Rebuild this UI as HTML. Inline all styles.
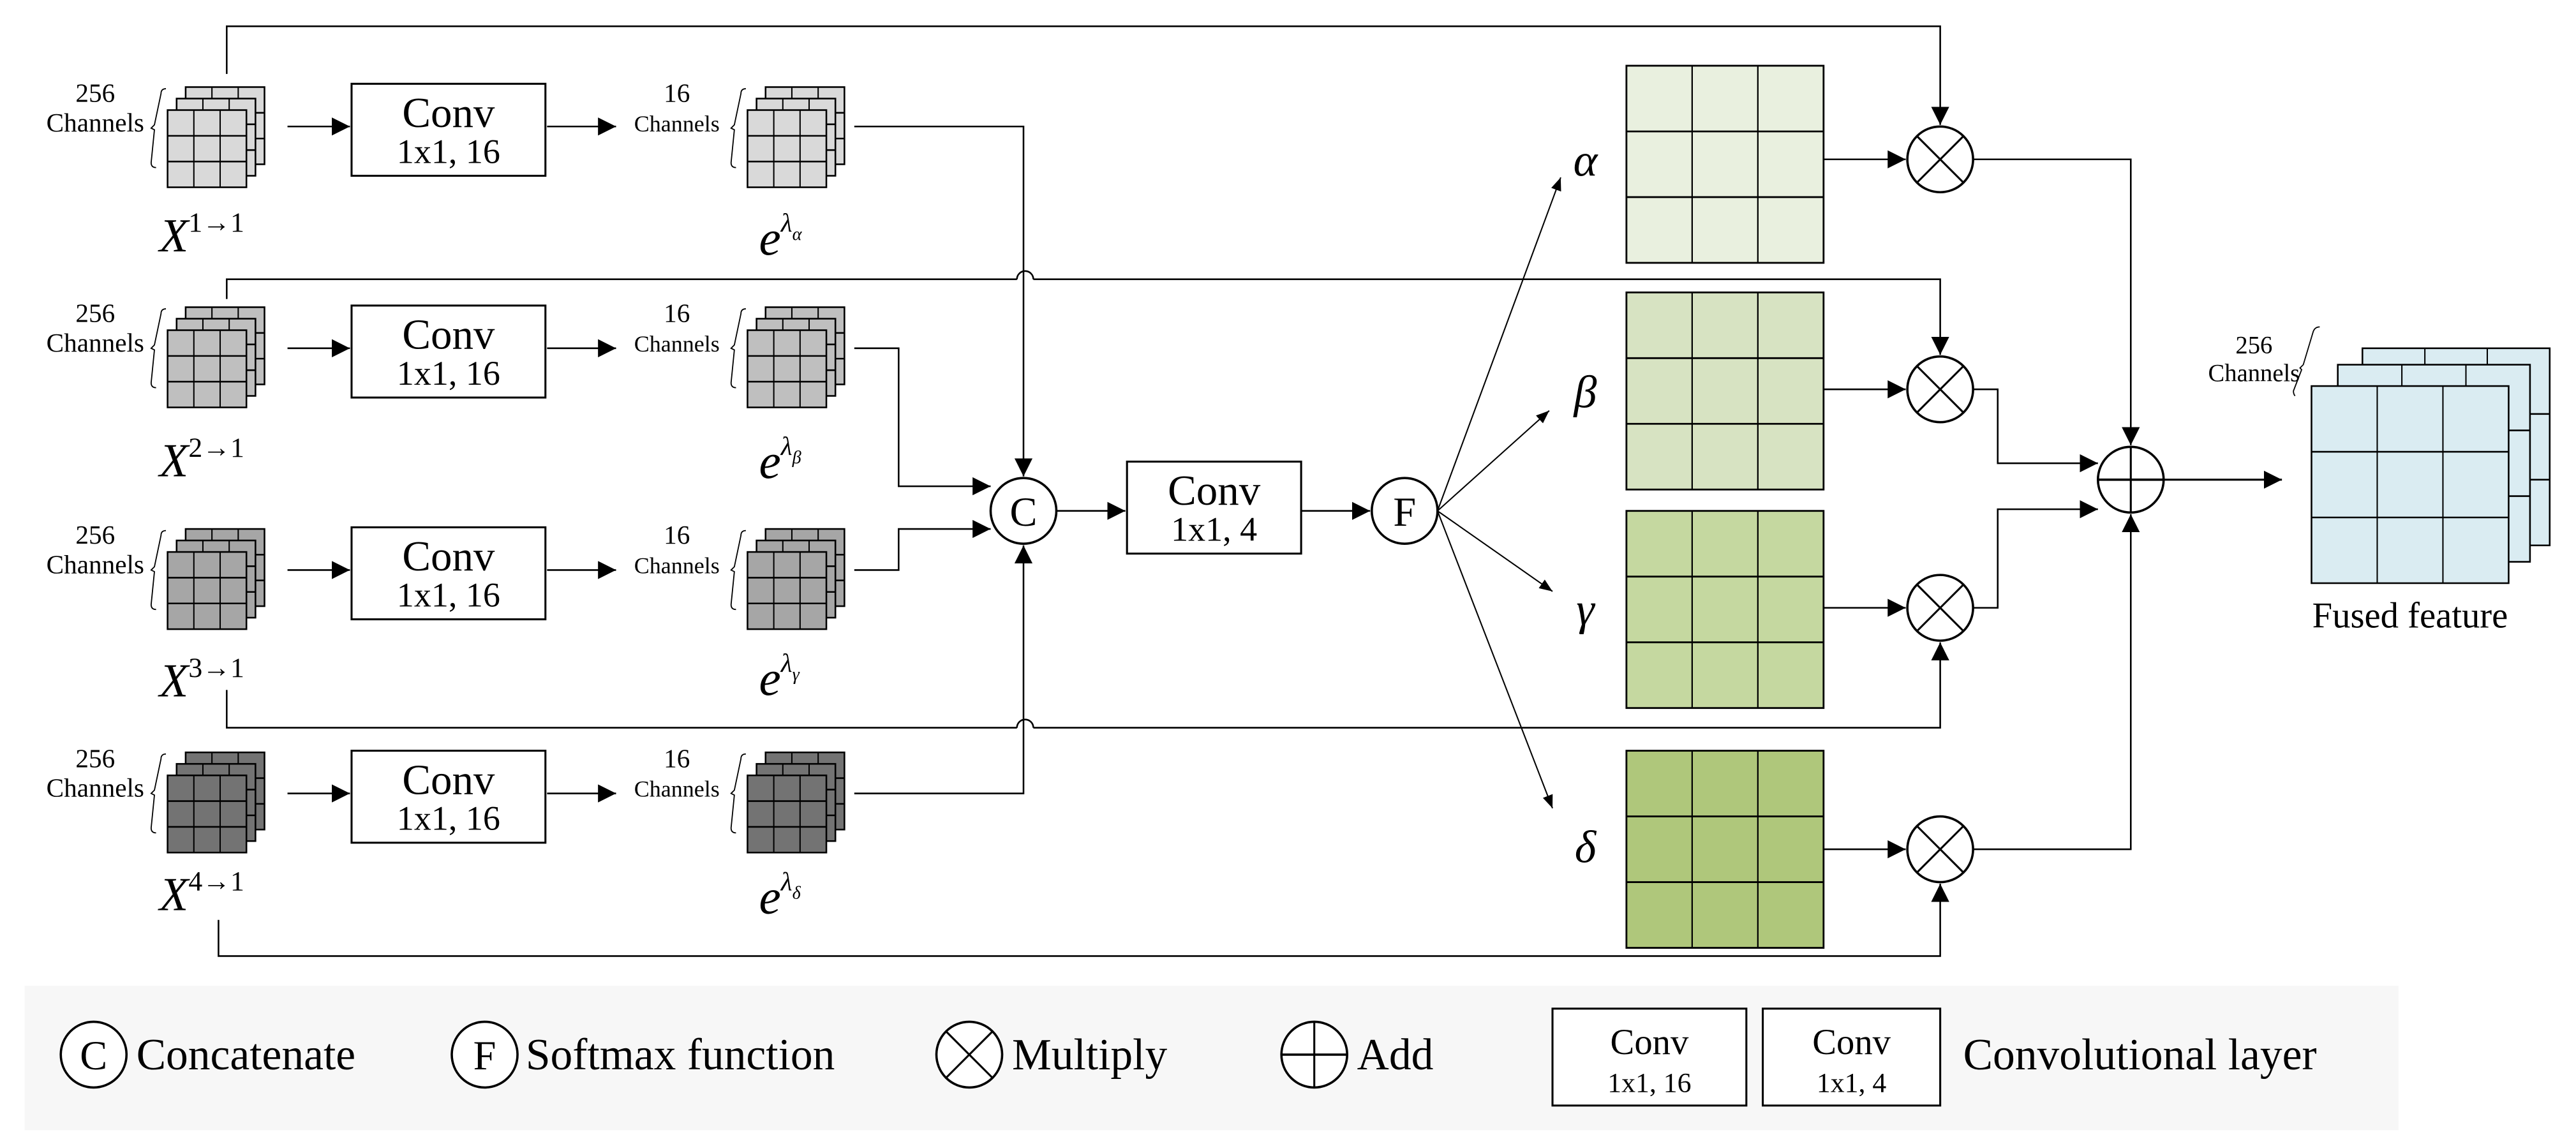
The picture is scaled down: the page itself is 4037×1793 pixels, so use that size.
<!DOCTYPE html>
<html><head><meta charset="utf-8"><style>
html,body{margin:0;padding:0;background:#fff;width:4037px;height:1793px;overflow:hidden}
svg{display:block}
text{font-family:"Liberation Serif",serif;fill:#000}
</style></head><body>
<svg id="s" width="4037" height="1793" viewBox="0 0 1568 696.4" xmlns="http://www.w3.org/2000/svg">
<defs>
<marker id="ah" viewBox="0 0 10 10" refX="10" refY="5" markerWidth="11" markerHeight="11" markerUnits="userSpaceOnUse" orient="auto"><path d="M0,0L10,5L0,10z" fill="#000"/></marker>
<marker id="as" viewBox="0 0 10 10" refX="10" refY="5" markerWidth="8" markerHeight="8" markerUnits="userSpaceOnUse" orient="auto"><path d="M0,1L10,5L0,9z" fill="#000"/></marker>
</defs>
<rect x="15" y="600" width="1445" height="88" fill="#f7f7f7"/>
</svg>
<script>
const NS="http://www.w3.org/2000/svg";
const svg=document.getElementById('s');
function el(tag,attrs,txt){const e=document.createElementNS(NS,tag);for(const k in attrs)e.setAttribute(k,attrs[k]);if(txt!==undefined)e.textContent=txt;svg.appendChild(e);return e;}
function line(pts,arrow,sw){el('polyline',{points:pts,fill:'none',stroke:'#000','stroke-width':sw||1,'marker-end':arrow?'url(#'+arrow+')':''});}
function grid(x,y,w,h,fill,sw){el('rect',{x:x,y:y,width:w,height:h,fill:fill,stroke:'#000','stroke-width':sw||1});
 for(let i=1;i<3;i++){el('line',{x1:x+w*i/3,y1:y,x2:x+w*i/3,y2:y+h,stroke:'#000','stroke-width':(sw||1)*0.8});el('line',{x1:x,y1:y+h*i/3,x2:x+w,y2:y+h*i/3,stroke:'#000','stroke-width':sw||1});}}
function stack(x,y,fill,w,h,dx,dy){w=w||48;h=h||47;dx=dx||5.5;dy=dy||7;
 grid(x+2*dx,y-2*dy,w,h,fill);grid(x+dx,y-dy,w,h,fill);grid(x,y,w,h,fill);}
function brace(x,y1,y2){el('path',{d:`M${x+6},${y1} q-3,0 -3,3 L${x-1},${(y1+y2)/2-2} l-2,2 l2,1 L${x-3},${y2-3} q0,3 3,3`,fill:'none',stroke:'#000','stroke-width':0.7});}
function circ(cx,cy,r){el('circle',{cx:cx,cy:cy,r:r,fill:'#fff',stroke:'#000','stroke-width':1.4});}
function txt(x,y,s,size,anchor,extra){const a={x:x,y:y,'font-size':size,'text-anchor':anchor||'middle'};Object.assign(a,extra||{});return el('text',a,s);}
function conv(x,y,w,h,t2,sans,s1,s2){el('rect',{x:x,y:y,width:w,height:h,fill:'#fff',stroke:'#000','stroke-width':1.2});
 const f=sans?{'font-family':'"Liberation Sans",sans-serif'}:{};
 txt(x+w/2,y+h*0.47,'Conv',s1||(sans?21:26),'middle',f);txt(x+w/2,y+h*0.86,t2,s2||(sans?17:21),'middle',f);}
function mult(cx,cy){circ(cx,cy,20);const d=20*0.707;el('line',{x1:cx-d,y1:cy-d,x2:cx+d,y2:cy+d,stroke:'#000','stroke-width':1.2});el('line',{x1:cx-d,y1:cy+d,x2:cx+d,y2:cy-d,stroke:'#000','stroke-width':1.2});}
function add(cx,cy){circ(cx,cy,20);el('line',{x1:cx-20,y1:cy,x2:cx+20,y2:cy,stroke:'#000','stroke-width':1.4});el('line',{x1:cx,y1:cy-20,x2:cx,y2:cy+20,stroke:'#000','stroke-width':1.2});}

line('138,45 138,16 1181,16 1181,76','ah');
line('138,182 138,170 619,170','');
el('path',{d:'M619,170 a5,5 0 0 1 10,0',fill:'none',stroke:'#000','stroke-width':1});
line('629,170 1181,170 1181,216','ah');
line('138,420 138,443 619,443','');
el('path',{d:'M619,443 a5,5 0 0 1 10,0',fill:'none',stroke:'#000','stroke-width':1});
line('629,443 1181,443 1181,391','ah');
line('133,560 133,582 1181,582 1181,538','ah');

const rows=[{y:67,c:'#d9d9d9',cy:77,X:'1',e:'α'},{y:201,c:'#bfbfbf',cy:212,X:'2',e:'β'},{y:336,c:'#a6a6a6',cy:347,X:'3',e:'γ'},{y:472,c:'#737373',cy:483,X:'4',e:'δ'}];
const ey=[155,291,423,556], xy=[153,290,424,554];
rows.forEach((r,i)=>{
 stack(102,r.y,r.c);brace(95,r.y-13,r.y+35);
 txt(58,r.y-5,'256',16);txt(58,r.y+13,'Channels',16);
 line(`175,${r.cy} 213,${r.cy}`,'ah');
 conv(214,r.cy-26,118,56,'1x1, 16');
 line(`333,${r.cy} 375,${r.cy}`,'ah');
 txt(412,r.y-5,'16',16);txt(412,r.y+13,'Channels',14,'middle',{'font-family':'"Liberation Sans",sans-serif'});
 stack(455,r.y,r.c);brace(448,r.y-13,r.y+35);
 const t=txt(97,xy[i],'',29,'start',{'font-style':'italic'});
 t.innerHTML='X<tspan dy="-12" font-size="17" font-style="normal">'+r.X+'→1</tspan>';
 const t2=txt(462,ey[i],'',30,'start',{'font-style':'italic'});
 t2.innerHTML='e<tspan dy="-14" font-size="16">λ</tspan><tspan dy="5" font-size="11">'+r.e+'</tspan>';
});
line('520,77 623,77 623,290','ah');
line('520,212 547,212 547,296 603,296','ah');
line('520,347 547,347 547,322 603,322','ah');
line('520,483 623,483 623,332','ah');
circ(623,311,20);txt(623,320,'C',25);
line('643,311 685,311','ah');
conv(686,281,106,56,'1x1, 4');
line('792,311 834,311','ah');
circ(855,311,20);txt(855,320,'F',25);
line('875,311 950,108','as',0.8);
line('875,311 943,250','as',0.8);
line('875,311 945,360','as',0.8);
line('875,311 945,492','as',0.8);
txt(965,107,'α',28,'middle',{'font-style':'italic'});
txt(965,248,'β',28,'middle',{'font-style':'italic'});
txt(965,380,'γ',28,'middle',{'font-style':'italic'});
txt(965,525,'δ',28,'middle',{'font-style':'italic'});
const gm=[[40,'#e9f0df',97],[178,'#d7e3c2',237],[311,'#c5d8a0',370],[457,'#afc77b',517]];
gm.forEach(([y,c,cy])=>{grid(990,y,120,120,c,1.1);line(`1110,${cy} 1160,${cy}`,'ah');mult(1181,cy);});
line('1201,97 1297,97 1297,271','ah');
line('1201,237 1216,237 1216,282 1277,282','ah');
line('1201,370 1216,370 1216,310 1277,310','ah');
line('1201,517 1297,517 1297,313','ah');
add(1297,292);
line('1317,292 1389,292','ah',1.2);
grid(1438,212,114,120,'#daecf2');grid(1423,222,117,120,'#daecf2');grid(1407,235,120,120,'#daecf2');
txt(1372,215,'256',15);txt(1372,232,'Channels',15);
el('path',{d:'M1412,199 q-3,0 -4,3 L1402,222 l-2,2 l1,1 L1396,238 q0,2 1,3',fill:'none',stroke:'#000','stroke-width':0.7});
txt(1467,382,'Fused feature',22);
circ(57,642,20);txt(57,651,'C',25);txt(83,651,'Concatenate',27,'start');
circ(295,642,20);txt(295,651,'F',25);txt(320,651,'Softmax function',27,'start');
mult(590,642);txt(616,651,'Multiply',27,'start');
add(800,642);txt(826,651,'Add',27,'start');
conv(945,614,118,59,'1x1, 16',true,22,17);
conv(1073,614,108,59,'1x1, 4',true,22,17);
txt(1195,651,'Convolutional layer',27,'start');
</script>
</body></html>
